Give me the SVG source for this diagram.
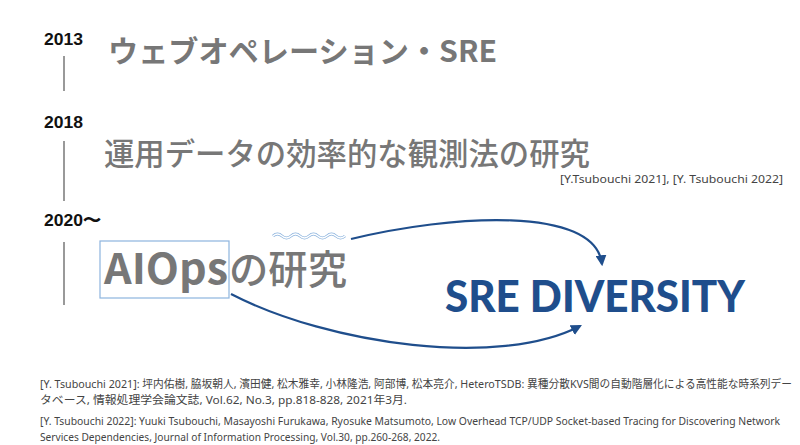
<svg xmlns="http://www.w3.org/2000/svg" width="800" height="445" viewBox="0 0 800 445">
<style>
.year{font-family:"Liberation Sans",Arial,sans-serif;font-weight:bold;font-size:16.5px;fill:#111}
.title{font-family:"Noto Sans CJK JP","Noto Sans",sans-serif;font-weight:bold;fill:#777}
.tl{stroke:#555;stroke-width:1.2}
.ref{font-family:"Noto Sans","Noto Sans CJK JP",sans-serif;font-size:11.5px;fill:#444}
.conn{fill:none;stroke:#1f4e8c;stroke-width:2.2}
</style>
<defs>
<marker id="ah" viewBox="0 0 10 10" refX="8" refY="5" markerWidth="5" markerHeight="5" orient="auto-start-reverse">
<path d="M0,0 L10,5 L0,10 z" fill="#1f4e8c"/>
</marker>
</defs>
<rect width="800" height="445" fill="#fff"/>
<g id="timeline">
<line class="tl" x1="64" y1="56" x2="64" y2="91"/>
<line class="tl" x1="64" y1="141" x2="64" y2="201"/>
<line class="tl" x1="64" y1="242" x2="64" y2="305"/>
</g>
<g id="y2013">
<text class="year" x="44" y="45" textLength="39" lengthAdjust="spacingAndGlyphs">2013</text>
<text class="title" x="108" y="62" font-size="30" textLength="389" lengthAdjust="spacingAndGlyphs">ウェブオペレーション・SRE</text>
</g>
<g id="y2018">
<text class="year" x="44" y="128" textLength="39" lengthAdjust="spacingAndGlyphs">2018</text>
<text class="title" x="104" y="165" font-size="31" style="font-weight:500" textLength="486" lengthAdjust="spacingAndGlyphs">運用データの効率的な観測法の研究</text>
<text class="ref" x="783" y="183" text-anchor="end" font-size="12.5" textLength="223" lengthAdjust="spacingAndGlyphs">[Y.Tsubouchi 2021], [Y. Tsubouchi 2022]</text>
</g>
<g id="y2020">
<text class="year" x="44" y="226" textLength="57" lengthAdjust="spacingAndGlyphs">2020〜</text>
<rect x="100" y="241" width="129" height="57" fill="none" stroke="#8db4de" stroke-width="1.2"/>
<text class="title" x="104" y="284" font-size="42" font-family="Lato,'Noto Sans',sans-serif" font-weight="900" textLength="124" lengthAdjust="spacingAndGlyphs">AIOps</text>
<text class="title" x="229" y="284" font-size="40" style="font-weight:500" textLength="118" lengthAdjust="spacingAndGlyphs">の研究</text>
<path d="M273,236 q4.5,-4 9,0 t9,0 t9,0 t9,0 t9,0 t9,0 t9,0 t9,0" fill="none" stroke="#8db4de" stroke-width="3"/>
<path d="M273,236 q4.5,-4 9,0 t9,0 t9,0 t9,0 t9,0 t9,0 t9,0 t9,0" fill="none" stroke="#fff" stroke-width="1.2"/>
</g>
<g id="sre">
<text x="445" y="312" font-family="Lato,'Noto Sans',sans-serif" font-weight="900" font-size="44" fill="#1f4e8c" textLength="300" lengthAdjust="spacingAndGlyphs">SRE DIVERSITY</text>
</g>
<g id="connectors">
<path class="conn" d="M351,239 C450,215 595,205 602,264" marker-end="url(#ah)"/>
<path class="conn" d="M231,294 C330,345 500,368 580,326" marker-end="url(#ah)"/>
</g>
<g id="references">
<text class="ref" x="40" y="388" font-size="11" textLength="752" lengthAdjust="spacingAndGlyphs">[Y. Tsubouchi 2021]: 坪内佑樹, 脇坂朝人, 濱田健, 松木雅幸, 小林隆浩, 阿部博, 松本亮介, HeteroTSDB: 異種分散KVS間の自動階層化による高性能な時系列デー</text>
<text class="ref" x="40" y="404" textLength="367" lengthAdjust="spacingAndGlyphs">タベース, 情報処理学会論文誌, Vol.62, No.3, pp.818-828, 2021年3月.</text>
<text class="ref" x="40" y="425" font-size="11" textLength="740" lengthAdjust="spacingAndGlyphs">[Y. Tsubouchi 2022]: Yuuki Tsubouchi, Masayoshi Furukawa, Ryosuke Matsumoto, Low Overhead TCP/UDP Socket-based Tracing for Discovering Network</text>
<text class="ref" x="40" y="441" textLength="400" lengthAdjust="spacingAndGlyphs">Services Dependencies, Journal of Information Processing, Vol.30, pp.260-268, 2022.</text>
</g>
</svg>
